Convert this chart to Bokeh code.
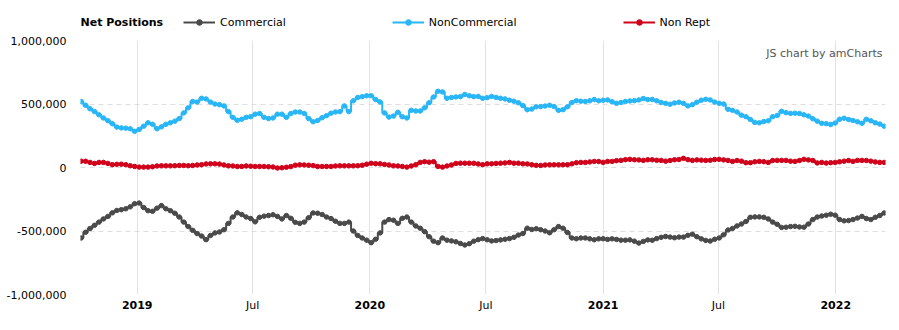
import pandas as pd
from bokeh.plotting import figure
from bokeh.layouts import column
from bokeh.models import (Range1d, FixedTicker, NumeralTickFormatter, Legend,
                          LegendItem, Label, ColumnDataSource, DatetimeAxis,
                          DatetimeTickFormatter)
from bokeh.embed import file_html
from bokeh.resources import INLINE

# ---------------- data (thousands of contracts, weekly) ----------------
start_date = "2018-10-05"
n_weeks = 181
dates = pd.date_range(start_date, periods=n_weeks, freq="7D")

commercial = [
    -555, -510, -480, -455, -430, -405, -385, -357, -338, -332,
    -325, -310, -285, -280, -315, -340, -345, -320, -300, -325,
    -340, -360, -390, -430, -465, -495, -520, -540, -568, -535,
    -515, -508, -490, -440, -390, -357, -370, -390, -402, -428,
    -392, -383, -378, -372, -385, -405,
    -378, -400, -432, -440, -430, -395, -358, -360, -370, -390,
    -402, -423, -440, -440, -430, -500, -535, -555, -572, -592,
    -565, -515, -430, -410, -415, -440, -400, -390, -430, -460,
    -478, -505, -545, -580, -592, -555, -572, -578, -585, -598,
    -610, -600, -580, -568,
    -560, -569, -578, -575, -570, -565, -560, -550, -532, -520,
    -478, -488, -482, -490, -500, -514, -490, -465, -478, -512,
    -555, -561, -555, -555, -562, -569, -562, -561, -566, -562,
    -566, -572, -572, -570, -580, -595, -582, -570, -573, -560,
    -550, -543, -548, -553, -548,
    -548, -534, -525, -545, -562, -574, -579, -565, -555, -530,
    -492, -480, -460, -445, -425, -392, -389, -389, -392, -405,
    -430, -447, -472, -470, -465, -463, -468, -470, -445, -410,
    -390, -382, -376, -368, -375, -410, -420, -418, -410, -398,
    -385, -402, -410, -392, -378, -358,
]

noncommercial = [
    520, 490, 462, 440, 415, 390, 368, 345, 318, 312,
    310, 305, 285, 300, 325, 352, 340, 305, 320, 340,
    352, 365, 385, 430, 470, 520, 515, 545, 540, 515,
    500, 495, 485, 440, 395, 372, 380, 395, 400, 420,
    425, 395, 385, 390, 420, 420,
    395, 425, 437, 437, 425, 385, 360, 370, 392, 408,
    428, 437, 440, 485, 440, 525, 552, 558, 565, 565,
    535, 516, 430, 397, 405, 435, 400, 390, 450, 445,
    445, 470, 510, 555, 600, 595, 545, 552, 556, 558,
    575, 565, 558, 560,
    545, 550, 560, 552, 545, 540, 530, 522, 510, 488,
    455, 460, 478, 480, 484, 490, 480, 450, 455, 478,
    512, 526, 522, 520, 525, 535, 525, 530, 532, 518,
    505, 512, 520, 524, 526, 532, 543, 535, 536, 525,
    512, 505, 498, 508, 514,
    505, 485, 495, 514, 530, 537, 532, 515, 505, 500,
    458, 450, 437, 412, 400, 378, 355, 352, 362, 368,
    400, 410, 442, 432, 426, 428, 425, 415, 405, 384,
    365, 348, 345, 338, 350, 380, 388, 378, 370, 360,
    348, 380, 368, 352, 342, 325,
]

nonrept = [
    50, 49, 40, 32, 40, 40, 32, 22, 25, 26,
    22, 14, 8, 3, 3, 3, 6, 12, 13, 13,
    13, 14, 16, 16, 14, 16, 20, 22, 28, 29,
    29, 27, 20, 13, 12, 8, 8, 12, 10, 8,
    8, 8, 6, 4, -4, -2,
    2, 7, 18, 21, 20, 18, 15, 8, 8, 8,
    8, 12, 13, 13, 13, 13, 14, 18, 26, 33,
    30, 29, 24, 20, 13, 12, 8, 3, 12, 22,
    40, 46, 42, 46, 8, 3, 12, 20, 32, 34,
    34, 34, 33, 28,
    22, 29, 29, 32, 34, 36, 40, 34, 34, 29,
    28, 22, 17, 16, 20, 21, 21, 21, 21, 22,
    29, 38, 40, 40, 44, 48, 47, 40, 48, 48,
    54, 56, 62, 64, 61, 60, 56, 61, 61, 57,
    56, 50, 55, 61, 63,
    72, 62, 56, 60, 58, 56, 57, 63, 64, 60,
    56, 48, 55, 50, 38, 38, 45, 48, 46, 40,
    55, 56, 56, 56, 50, 48, 55, 64, 60, 55,
    36, 40, 35, 38, 40, 45, 50, 55, 48, 56,
    56, 55, 50, 44, 40, 40,
]

unit = 1000
chart_title = "Net Positions"
series_names = ["Commercial", "NonCommercial", "Non Rept"]
series_values = [commercial, noncommercial, nonrept]
series_colors = ["#4a4a4a", "#29b6f6", "#d0021b"]

y_ticks = [-1000000, -500000, 0, 500000, 1000000]
year_tick_dates = ["2019-01-01", "2020-01-01", "2021-01-01", "2022-01-01"]
month_tick_dates = ["2019-07-01", "2020-07-01", "2021-07-01"]


def ms(d):
    return pd.Timestamp(d).value / 1e6


x_start = ms("2018-10-04")
x_end = ms("2022-03-20")

FONT = "DejaVu Sans"
DT_FIELDS = ["microseconds", "milliseconds", "seconds", "minsec", "minutes",
             "hourmin", "hours", "days", "months", "years"]


def fixed_format(fmt):
    return DatetimeTickFormatter(**{f: fmt for f in DT_FIELDS})


sources = [ColumnDataSource(dict(x=dates, y=[v * unit for v in vals]))
           for vals in series_values]

# ---------------- header row (title + legend) ----------------
# Its frame is aligned with the main chart's frame (pixels 80..885).
FRAME_L, FRAME_R = 80, 885
hdr = figure(width=899, height=30, output_backend="svg", toolbar_location=None,
             x_range=Range1d(FRAME_L, FRAME_R), y_range=Range1d(30, 0),
             min_border_left=80, min_border_right=14,
             min_border_top=0, min_border_bottom=0)
hdr.axis.visible = False
hdr.grid.visible = False
hdr.outline_line_color = None

hdr.add_layout(Label(x=FRAME_L, y=22, text=chart_title, text_font=FONT,
                     text_font_size="11px", text_font_style="bold",
                     text_baseline="middle", text_color="#000000"))

hdr_items = []
for name, src, col in zip(series_names, sources, series_colors):
    # same data sources; they fall outside this row's ranges, so only the
    # legend swatches are visible here
    rl = hdr.line("x", "y", source=src, line_width=2, line_color=col)
    rp = hdr.scatter("x", "y", source=src, size=4.5, fill_color=col, line_color=col)
    hdr_items.append(LegendItem(label=name, renderers=[rl, rp]))

legend = Legend(items=hdr_items, orientation="horizontal",
                location=(183 - FRAME_L, 1),
                glyph_width=32, glyph_height=14, label_height=14,
                label_standoff=5, spacing=106, padding=0, margin=0,
                border_line_color=None, background_fill_alpha=0,
                label_text_font=FONT, label_text_font_size="11px",
                label_text_color="#000000")
hdr.add_layout(legend)

# ---------------- main chart ----------------
p = figure(width=899, height=300, x_axis_type="datetime",
           output_backend="svg", toolbar_location=None,
           x_range=Range1d(x_start, x_end), y_range=Range1d(-1000000, 1000000),
           min_border_left=80, min_border_right=14,
           min_border_top=10, min_border_bottom=36)
p.outline_line_color = None

# y axis
yax = p.yaxis[0]
yax.ticker = FixedTicker(ticks=y_ticks)
yax.formatter = NumeralTickFormatter(format="0,0")
yax.axis_line_color = None
yax.major_tick_line_color = None
yax.minor_tick_line_color = None
yax.major_label_standoff = 8
yax.major_label_text_font = FONT
yax.major_label_text_font_size = "11px"
yax.major_label_text_color = "#000000"

# x axis: years (bold)
xax = p.xaxis[0]
xax.ticker = FixedTicker(ticks=[ms(d) for d in year_tick_dates])
xax.formatter = fixed_format("%Y")
xax.axis_line_color = None
xax.major_tick_line_color = None
xax.minor_tick_line_color = None
xax.major_tick_out = 0
xax.major_label_standoff = 6
xax.major_label_text_font = FONT
xax.major_label_text_font_size = "11px"
xax.major_label_text_font_style = "bold"
xax.major_label_text_color = "#000000"

# x axis: months (normal), drawn on the same row as the years
xax2 = DatetimeAxis(ticker=FixedTicker(ticks=[ms(d) for d in month_tick_dates]),
                    formatter=fixed_format("%b"),
                    axis_line_color=None, major_tick_line_color=None,
                    minor_tick_line_color=None, major_tick_out=0,
                    major_label_standoff=-13,
                    major_label_text_font=FONT, major_label_text_font_size="11px",
                    major_label_text_color="#000000")
p.add_layout(xax2, "below")

# grids
p.ygrid.ticker = FixedTicker(ticks=y_ticks)
p.ygrid.grid_line_color = "#dedede"
p.ygrid.grid_line_dash = "5 4"
p.xgrid.ticker = FixedTicker(ticks=sorted(ms(d) for d in year_tick_dates + month_tick_dates))
p.xgrid.grid_line_color = "#e2e2e2"

for src, col in zip(sources, series_colors):
    p.step("x", "y", source=src, mode="center", line_width=2, line_color=col)
    p.scatter("x", "y", source=src, size=4.5, fill_color=col, line_color=col)

# credit
p.add_layout(Label(x=x_end, y=1000000, x_offset=-3, y_offset=-13,
                   text="JS chart by amCharts", text_font=FONT,
                   text_font_size="11px", text_align="right",
                   text_baseline="middle", text_color="#555555"))

layout = column(hdr, p, spacing=0)
open("out.html", "w").write(file_html(layout, INLINE))
